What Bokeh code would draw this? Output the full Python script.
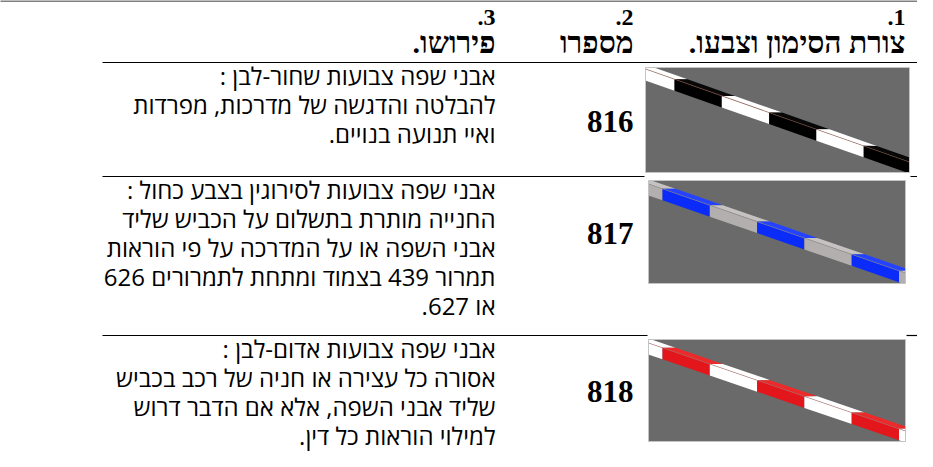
from bokeh.plotting import figure
from bokeh.models import Range1d
from bokeh.core.properties import value
from bokeh.embed import file_html
from bokeh.resources import INLINE

# ---------------- data ----------------
header_numbers = ["1.", "2.", "3."]
header_titles = ["צורת הסימון וצבעו.", "מספרו", "פירושו."]
sign_numbers = ["816", "817", "818"]
descriptions = [
    ["אבני שפה צבועות שחור-לבן :",
     "להבלטה והדגשה של מדרכות, מפרדות",
     "ואיי תנועה בנויים."],
    ["אבני שפה צבועות לסירוגין בצבע כחול :",
     "החנייה מותרת בתשלום על הכביש שליד",
     "אבני השפה או על המדרכה על פי הוראות",
     "תמרור 439 בצמוד ומתחת לתמרורים 626",
     "או 627."],
    ["אבני שפה צבועות אדום-לבן :",
     "אסורה כל עצירה או חניה של רכב בכביש",
     "שליד אבני השפה, אלא אם הדבר דרוש",
     "למילוי הוראות כל דין."],
]
# (first colour, second colour) of the painted curb stripes
stripe_side = [("#ffffff", "#000000"), ("#b3afaf", "#0b2cf8"), ("#ffffff", "#e3161b")]
stripe_top = [("#ffffff", "#080808"), ("#c6c2c2", "#2442ff"), ("#ffffff", "#ec2a2a")]
mid_line = ["#8a5a4a", "#8c8a8a", "#b07070"]

# ---------------- layout ----------------
W, H = 917, 451
RLM = "\u200f"


def rtl(s):
    # right-to-left marks so that the text is laid out as an RTL paragraph
    return RLM + s + RLM


p = figure(width=W, height=H, output_backend="svg", toolbar_location=None,
           x_range=Range1d(8, 8 + W), y_range=Range1d(8 + H, 8),
           min_border=0, outline_line_color=None, background_fill_color="white")
p.xaxis.visible = False
p.yaxis.visible = False
p.xgrid.visible = False
p.ygrid.visible = False

col_right = [913, 641, 503]
top_line_y = 8.5
row_sep = [70, 184, 343]
line_gap = 29
first_offset = 13

serif = value("Liberation Serif")
sans = value("Open Sans")

# header
p.segment(x0=[0], y0=[top_line_y], x1=[925], y1=[top_line_y], line_color="black", line_width=1.2)
p.text(x=col_right, y=[24] * 3, text=[rtl(t) for t in header_numbers],
       text_align="right", text_baseline="middle", text_font=serif,
       text_font_style="bold", text_font_size="24px", text_color="black")
p.text(x=col_right, y=[50] * 3, text=[rtl(t) for t in header_titles],
       text_align="right", text_baseline="middle", text_font=serif,
       text_font_style="bold", text_font_size="30px", text_color="black")

# image boxes (x0, y0, x1, y1) and band bottom edge at left
boxes = [(653, 75, 917, 180), (656, 188, 913, 291), (656, 347, 913, 449)]
band_left = [88, 203, 362]
first_cut = [682, 670, 670]
period = 47.3
hs, ht, k = 11.5, 4.5, 13.0


def clip_poly(pts, x0, y0, x1, y1):
    def clip(pts, keep, inter):
        out = []
        for i in range(len(pts)):
            cur, prev = pts[i], pts[i - 1]
            if keep(cur):
                if not keep(prev):
                    out.append(inter(prev, cur))
                out.append(cur)
            elif keep(prev):
                out.append(inter(prev, cur))
        return out

    def ix(a, b, x):
        t = (x - a[0]) / (b[0] - a[0])
        return (x, a[1] + t * (b[1] - a[1]))

    def iy(a, b, y):
        t = (y - a[1]) / (b[1] - a[1])
        return (a[0] + t * (b[0] - a[0]), y)

    rules = [(lambda q: q[0] >= x0, lambda a, b: ix(a, b, x0)),
             (lambda q: q[0] <= x1, lambda a, b: ix(a, b, x1)),
             (lambda q: q[1] >= y0, lambda a, b: iy(a, b, y0)),
             (lambda q: q[1] <= y1, lambda a, b: iy(a, b, y1))]
    for keep, inter in rules:
        pts = clip(pts, keep, inter)
        if not pts:
            break
    return pts


for r in range(3):
    sy = row_sep[r]
    bx0, by0, bx1, by1 = boxes[r]
    # separator above the row
    if r == 0:
        p.segment(x0=[110], y0=[sy], x1=[940], y1=[sy], line_color="black", line_width=1.2)
    else:
        pb = boxes[r - 1]
        p.segment(x0=[110, max(pb[2], bx1) + 1], y0=[sy, sy],
                  x1=[min(pb[0], bx0) - 1, 940], y1=[sy, sy],
                  line_color="black", line_width=1.2)

    # description text
    lines = descriptions[r]
    ys = [sy + first_offset + i * line_gap for i in range(len(lines))]
    p.text(x=[col_right[2]] * len(lines), y=ys, text=[rtl(t) for t in lines],
           text_align="right", text_baseline="middle", text_font=sans,
           text_font_size="24px", text_color="black")

    # sign number
    p.text(x=[col_right[1]], y=[(by0 + by1) / 2 + 1], text=[sign_numbers[r]],
           text_align="right", text_baseline="middle", text_font=serif,
           text_font_style="bold", text_font_size="31px", text_color="black")

    # picture box
    p.quad(left=[bx0], right=[bx1], top=[by0], bottom=[by1],
           fill_color="#6a6a6a", line_color="#c4c4c4", line_width=1)

    s = (by1 + 1 - band_left[r]) / (bx1 - bx0)

    def yb(x, r=r, s=s, bx0=bx0):
        return band_left[r] + (x - bx0) * s

    cuts = [first_cut[r] + i * period for i in range(-2, 8)]
    xs_side, ys_side, c_side = [], [], []
    xs_top, ys_top, c_top = [], [], []
    for i in range(len(cuts) - 1):
        xa, xb = cuts[i], cuts[i + 1]
        ci = (i + 1) % 2
        side = [(xa, yb(xa) - hs), (xb, yb(xb) - hs), (xb, yb(xb)), (xa, yb(xa))]
        top = [(xa, yb(xa) - hs), (xb, yb(xb) - hs),
               (xb + k, yb(xb + k) - hs - ht), (xa + k, yb(xa + k) - hs - ht)]
        for poly, xsl, ysl, cl, col in ((side, xs_side, ys_side, c_side, stripe_side[r][ci]),
                                         (top, xs_top, ys_top, c_top, stripe_top[r][ci])):
            cp = clip_poly(poly, bx0 + 0.5, by0 + 0.5, bx1 - 0.5, by1 - 0.5)
            if len(cp) >= 3:
                xsl.append([q[0] for q in cp])
                ysl.append([q[1] for q in cp])
                cl.append(col)
    p.patches(xs=xs_side, ys=ys_side, fill_color=c_side, line_color=None)
    p.patches(xs=xs_top, ys=ys_top, fill_color=c_top, line_color=None)
    ml = clip_poly([(bx0, yb(bx0) - hs - 0.4), (bx1, yb(bx1) - hs - 0.4),
                    (bx1, yb(bx1) - hs + 0.4), (bx0, yb(bx0) - hs + 0.4)],
                   bx0 + 0.5, by0 + 0.5, bx1 - 0.5, by1 - 0.5)
    if ml:
        p.patch(x=[q[0] for q in ml], y=[q[1] for q in ml], fill_color=mid_line[r],
                fill_alpha=0.8, line_color=None)

open("out.html", "w").write(file_html(p, INLINE))
